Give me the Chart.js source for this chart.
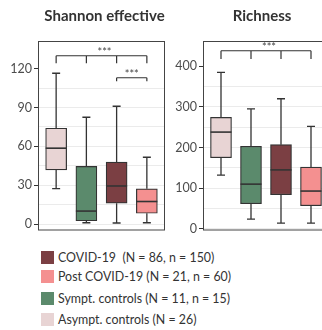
<!DOCTYPE html>
<html>
<head>
<meta charset="utf-8">
<script src="https://cdn.jsdelivr.net/npm/chart.js@4/dist/chart.umd.min.js"></script>
<style>
  html, body { margin: 0; padding: 0; background: #fff; overflow: hidden; width: 322px; height: 330px; }
  #shannon { position: absolute; left: 0; top: 0; }
  #richness { position: absolute; left: 165px; top: 0; }
  .legend { position: absolute; left: 41px; font-family: Lato, "Liberation Sans", sans-serif; font-size: 12.4px; color: #333; white-space: pre; }
  .legend .row { position: absolute; left: 0; height: 14px; line-height: 14px; }
  .legend .sw { position: absolute; left: 0; top: 0; width: 13px; height: 13px; }
  .legend .tx { position: absolute; left: 17px; top: 0; }
</style>
</head>
<body>
<canvas id="shannon" width="170" height="240"></canvas>
<canvas id="richness" width="170" height="240"></canvas>
<div class="legend" id="legend"></div>
<script>
// groups, left to right on each panel
const groups = ["Asympt. controls", "Sympt. controls", "COVID-19", "Post COVID-19"];
const groupColors = ["#e8d4d4", "#5b8a6c", "#7b3f43", "#f49090"];

// Shannon effective: whisker low, Q1, median, Q3, whisker high
const shannonLow = [27.4, 1, 0.8, 1];
const shannonQ1 = [41.8, 2.5, 16.1, 8.3];
const shannonMed = [58.6, 10, 29.4, 17.4];
const shannonQ3 = [74, 44.5, 47.8, 27.2];
const shannonHigh = [116.5, 82.5, 91, 51.6];
const shannonTicks = [0, 30, 60, 90, 120];
const shannonGrid = [0, 15, 30, 45, 60, 75, 90, 105];

// Richness
const richLow = [132, 24, 14, 14];
const richQ1 = [175, 62, 84, 57];
const richMed = [238, 110, 145, 93];
const richQ3 = [274, 203, 207, 152];
const richHigh = [385, 295, 320, 252];
const richTicks = [0, 100, 200, 300, 400];
const richGrid = [0, 50, 100, 150, 200, 250, 300, 350];

// legend (top to bottom)
const legendLabels = ["COVID-19  (N = 86, n = 150)", "Post COVID-19 (N = 21, n = 60)", "Sympt. controls (N = 11, n = 15)", "Asympt. controls (N = 26)"];
const legendColors = ["#7b3f43", "#f49090", "#5b8a6c", "#e8d4d4"];
const legendY = [251, 270, 292, 313];

const FONT = "Lato, 'Liberation Sans', sans-serif";
const LINE = "#333333";

// box plot extras: whiskers, medians, significance brackets, panel border, title
const boxPlugin = {
    id: "boxExtras",
    beforeDatasetsDraw(chart) {
        const o = chart.options.plugins.boxExtras;
        const x = chart.scales.x, y = chart.scales.y;
        const ctx = chart.ctx;
        ctx.save();
        ctx.strokeStyle = LINE;
        ctx.lineWidth = 1.3;
        o.low.forEach((lo, i) => {
            const px = x.getPixelForValue(i + 1);
            ctx.beginPath();
            ctx.moveTo(px, y.getPixelForValue(o.high[i]));
            ctx.lineTo(px, y.getPixelForValue(o.q3[i]));
            ctx.moveTo(px, y.getPixelForValue(o.q1[i]));
            ctx.lineTo(px, y.getPixelForValue(lo));
            ctx.moveTo(px - 4, y.getPixelForValue(o.high[i]));
            ctx.lineTo(px + 4, y.getPixelForValue(o.high[i]));
            ctx.moveTo(px - 4, y.getPixelForValue(lo));
            ctx.lineTo(px + 4, y.getPixelForValue(lo));
            ctx.stroke();
        });
        ctx.restore();
    },
    afterDatasetsDraw(chart) {
        const o = chart.options.plugins.boxExtras;
        const x = chart.scales.x, y = chart.scales.y;
        const ctx = chart.ctx;
        const a = chart.chartArea;
        ctx.save();
        ctx.strokeStyle = LINE;
        ctx.lineWidth = 1.6;
        o.med.forEach((m, i) => {
            const px = x.getPixelForValue(i + 1);
            const py = y.getPixelForValue(m);
            ctx.beginPath();
            ctx.moveTo(px - 10.5, py);
            ctx.lineTo(px + 10.5, py);
            ctx.stroke();
        });
        // brackets
        ctx.lineWidth = 1.2;
        ctx.fillStyle = "#444";
        ctx.font = "11px " + FONT;
        ctx.textAlign = "center";
        ctx.textBaseline = "middle";
        o.brackets.forEach(b => {
            const top = y.getPixelForValue(b.at);
            const bot = y.getPixelForValue(b.tip);
            const x0 = x.getPixelForValue(b.from);
            const x1 = x.getPixelForValue(b.to);
            ctx.beginPath();
            ctx.moveTo(x0, top);
            ctx.lineTo(x1, top);
            b.ticks.forEach(t => {
                const tx = x.getPixelForValue(t);
                ctx.moveTo(tx, top);
                ctx.lineTo(tx, bot);
            });
            ctx.stroke();
            ctx.fillText(b.label, x.getPixelForValue(b.labelAt), top - 3.5);
        });
        // panel border
        ctx.lineWidth = 1;
        ctx.strokeStyle = "#444";
        ctx.strokeRect(a.left + 0.5, a.top + 0.5, a.right - a.left - 1, a.bottom - a.top - 1);
        // title, centred on the panel
        ctx.fillStyle = "#333";
        ctx.font = "bold 15px " + FONT;
        ctx.fillText(o.title, (a.left + a.right) / 2 + o.titleShift, 16);
        ctx.restore();
    }
};

function makePanel(id, title, titleShift, low, q1, med, q3, high, ticks, grid, yMin, yMax, brackets, padRight) {
    const data = q1.map((v, i) => ({ x: i + 1, y: [v, q3[i]] }));
    return new Chart(document.getElementById(id), {
        type: "bar",
        data: {
            datasets: [{
                data,
                backgroundColor: groupColors,
                borderColor: LINE,
                borderWidth: 1.2,
                borderSkipped: false,
                barThickness: 21
            }]
        },
        options: {
            responsive: false,
            animation: false,
            devicePixelRatio: 1,
            layout: { padding: { left: 0, right: padRight, top: 41, bottom: 5 } },
            scales: {
                x: { type: "linear", min: 0.4, max: 4.6, offset: false, grid: { offset: false }, display: false },
                y: {
                    min: yMin,
                    max: yMax,
                    afterFit: s => { s.width = 38; },
                    afterBuildTicks: s => { s.ticks = grid.concat([ticks[ticks.length - 1]]).map(v => ({ value: v })); },
                    border: { display: false },
                    grid: {
                        color: c => grid.includes(c.tick.value) ? "#ebebeb" : "rgba(0,0,0,0)",
                        tickColor: c => ticks.includes(c.tick.value) ? LINE : "rgba(0,0,0,0)",
                        tickLength: 4,
                        lineWidth: 1
                    },
                    ticks: {
                        padding: 2,
                        color: "#4d4d4d",
                        font: { family: FONT, size: 12.5 },
                        callback: v => ticks.includes(v) ? String(v) : ""
                    }
                }
            },
            plugins: {
                legend: { display: false },
                tooltip: { enabled: false },
                title: { display: false },
                boxExtras: { low, q1, med, q3, high, brackets, title, titleShift }
            }
        },
        plugins: [boxPlugin]
    });
}

makePanel("shannon", "Shannon effective", 3, shannonLow, shannonQ1, shannonMed, shannonQ3, shannonHigh,
    shannonTicks, shannonGrid, -5, 141.4, [
        { from: 1, to: 4, ticks: [1, 2, 3, 4], at: 130, tip: 124.3, label: "***", labelAt: 2.6 },
        { from: 3, to: 4, ticks: [3, 4], at: 113, tip: 110.4, label: "***", labelAt: 3.5 }
    ], 5);

makePanel("richness", "Richness", -4, richLow, richQ1, richMed, richQ3, richHigh,
    richTicks, richGrid, -4, 462, [
        { from: 1, to: 4, ticks: [1, 2, 3, 4], at: 438, tip: 418, label: "***", labelAt: 2.6 }
    ], 6);

// legend
const legendEl = document.getElementById("legend");
legendLabels.forEach((t, i) => {
    const row = document.createElement("div");
    row.className = "row";
    row.style.top = legendY[i] + "px";
    row.innerHTML = '<span class="sw"></span><span class="tx"></span>';
    row.querySelector(".sw").style.background = legendColors[i];
    row.querySelector(".tx").textContent = t;
    legendEl.appendChild(row);
});
</script>
</body>
</html>
